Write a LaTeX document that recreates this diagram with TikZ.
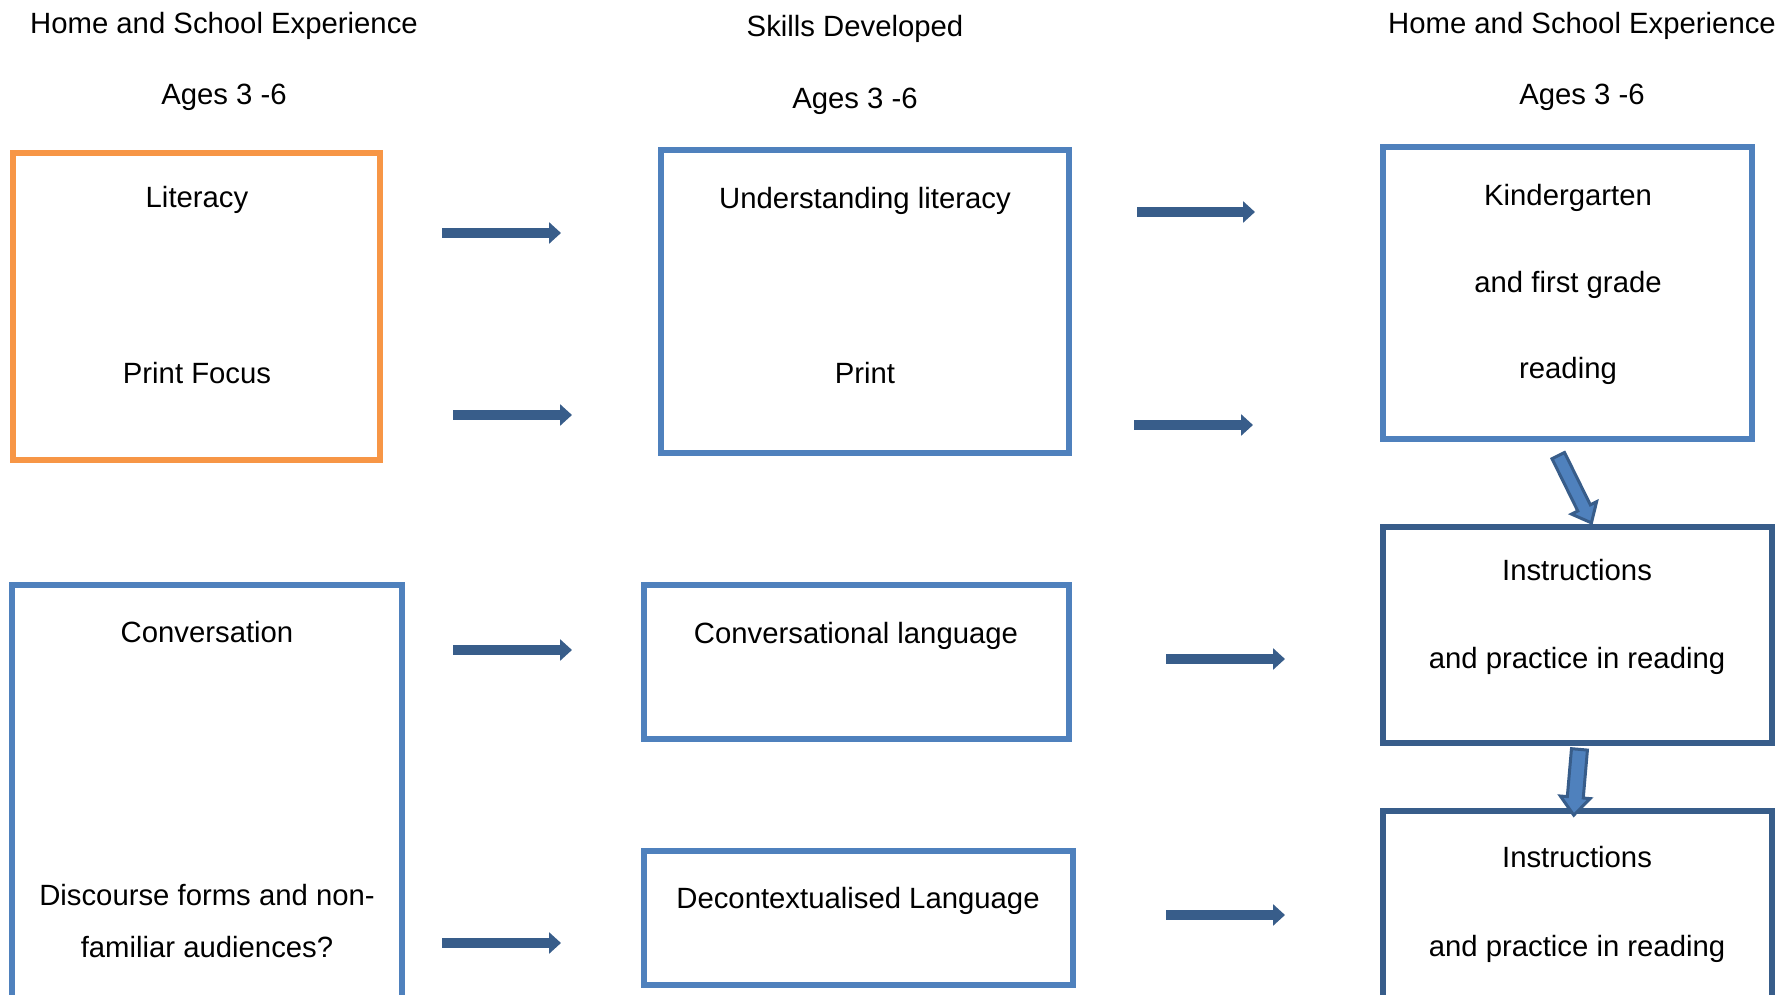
\documentclass[tikz,border=0pt]{standalone}
\usepackage{fontspec}
\setmainfont{Liberation Sans}
\usetikzlibrary{arrows.meta, positioning, shapes.arrows}

\definecolor{boxblue}{HTML}{4F81BD}
\definecolor{boxorange}{HTML}{F79646}
\definecolor{darkblue}{HTML}{385D8A}

\begin{document}
\begin{tikzpicture}[x=1pt, y=-1pt,
  every node/.style={font=\fontsize{29.3}{35}\selectfont, text height=0.75em, text depth=0.25em, inner sep=0},
  box/.style={draw=boxblue, line width=6.5pt, anchor=north west, outer sep=0pt, text height=0pt, text depth=0pt},
  flow/.style={darkblue, line width=10pt, -{Triangle[length=12pt, width=21pt]}},
  fatarrow/.style={single arrow, draw=darkblue, fill=boxblue, line width=3pt, sloped, allow upside down,
    text height=0pt, text depth=0pt, inner xsep=0pt, minimum width=0pt, single arrow tip angle=80}]
  \useasboundingbox (0,0) rectangle (1791,995);
  \clip (0,0) rectangle (1791,995);

  % column headings
  \node (hleft) at (224,31) {Home and School Experience};
  \node (aleft) at (224,102) {Ages 3 -6};
  \node (hmid) at (855,34) {Skills Developed};
  \node (amid) at (855,106) {Ages 3 -6};
  \node (hright) at (1582,31) {Home and School Experience};
  \node (aright) at (1582,102) {Ages 3 -6};

  % boxes
  \node[box, draw=boxorange, line width=5.5pt, minimum width=367pt, minimum height=307pt] (lit) at (13,153) {};
  \node[box, minimum width=408pt, minimum height=303pt] (under) at (661,150) {};
  \node[box, minimum width=369pt, minimum height=292pt] (kinder) at (1383,147) {};
  \node[box, draw=darkblue, line width=6pt, minimum width=389pt, minimum height=216pt] (instr1) at (1383,527) {};
  \node[box, draw=darkblue, line width=6pt, minimum width=389pt, minimum height=220pt] (instr2) at (1383,811) {};
  \node[box, minimum width=390pt, minimum height=440pt] (conv) at (12,585) {};
  \node[box, minimum width=425pt, minimum height=154pt] (convlang) at (644,585) {};
  \node[box, minimum width=429pt, minimum height=134pt] (decon) at (644,851) {};

  % box texts
  \node (littop) at (197,205) {Literacy};
  \node (litbot) at (197,381) {Print Focus};
  \node (undertop) at (865,206) {Understanding literacy};
  \node (underbot) at (865,381) {Print};
  \node (kinder1) at (1568,203) {Kindergarten};
  \node (kinder2) at (1568,290) {and first grade};
  \node (kinder3) at (1568,376) {reading};
  \node (instr1a) at (1577,578) {Instructions};
  \node (instr1b) at (1577,666) {and practice in reading};
  \node (instr2a) at (1577,865) {Instructions};
  \node (instr2b) at (1577,954) {and practice in reading};
  \node (convtop) at (207,640) {Conversation};
  \node (convbot1) at (207,903) {Discourse forms and non-};
  \node (convbot2) at (207,955) {familiar audiences?};
  \node (convlangtxt) at (856,641) {Conversational language};
  \node (decontxt) at (858,906) {Decontextualised Language};

  % horizontal arrows
  \coordinate (f1s) at (442,233);  \coordinate (f1e) at (561,233);
  \coordinate (f2s) at (453,415);  \coordinate (f2e) at (572,415);
  \coordinate (f3s) at (1137,212); \coordinate (f3e) at (1255,212);
  \coordinate (f4s) at (1134,425); \coordinate (f4e) at (1253,425);
  \coordinate (f5s) at (453,650);  \coordinate (f5e) at (572,650);
  \coordinate (f6s) at (1166,659); \coordinate (f6e) at (1285,659);
  \coordinate (f7s) at (442,943);  \coordinate (f7e) at (561,943);
  \coordinate (f8s) at (1166,915); \coordinate (f8e) at (1285,915);
  \foreach \i in {1,...,8}
    \draw[flow] (f\i s) -- (f\i e);

  % arrows down the right column
  \coordinate (k1) at (1556,451);
  \coordinate (k2) at (1590,520);
  \path (k1) -- (k2) node[midway, fatarrow, inner ysep=5.5pt, single arrow head extend=7pt, minimum height=75pt] (karr) {};
  \coordinate (i1) at (1580,743);
  \coordinate (i2) at (1574,812);
  \path (i1) -- (i2) node[midway, fatarrow, inner ysep=6.5pt, single arrow head extend=7pt, minimum height=66pt] (iarr) {};
\end{tikzpicture}
\end{document}
